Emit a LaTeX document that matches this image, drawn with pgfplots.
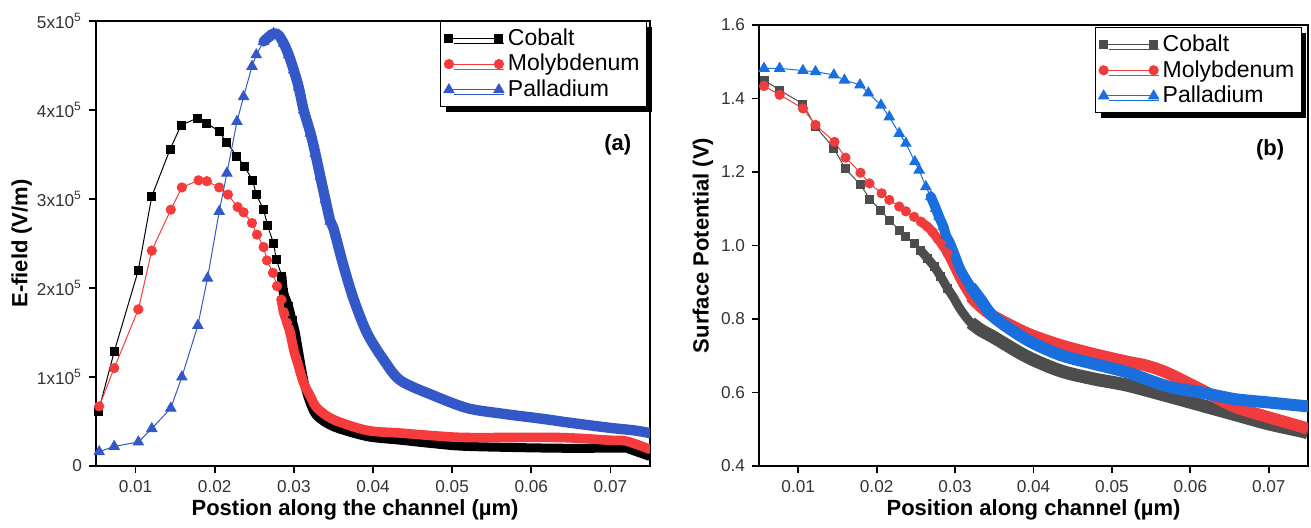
\documentclass[border=0pt]{standalone}
\usepackage{fontspec}
\setmainfont{Liberation Sans}
\usepackage{pgfplots}
\pgfplotsset{compat=1.18}
\usetikzlibrary{shadows}

\definecolor{coA}{HTML}{000000}
\definecolor{moA}{HTML}{F53B3B}
\definecolor{paA}{HTML}{3558C8}
\definecolor{coB}{HTML}{4D4D4D}
\definecolor{moB}{HTML}{F03C3C}
\definecolor{paB}{HTML}{1A6FDF}

\pgfplotsset{
  panel/.style={
    scale only axis,
    tick align=outside,
    tick pos=left,
    major tick length=3.5pt,
    axis line style={line width=0.9pt},
    every tick/.style={black, line width=0.9pt},
    tick label style={font=\fontsize{8.6}{10}\selectfont, text=black!80},
    label style={font=\fontsize{11}{13}\selectfont\bfseries},
    xtick={0.01,0.02,0.03,0.04,0.05,0.06,0.07},
    xticklabels={0.01,0.02,0.03,0.04,0.05,0.06,0.07},
    scaled x ticks=false,
    xmin=0.005, xmax=0.075,
    legend cell align=left,
    legend style={font=\fontsize{11.5}{14}\selectfont, draw=black, line width=0.6pt,
      fill=white, inner sep=1.5pt, row sep=-1pt,
      drop shadow={shadow xshift=2.5pt, shadow yshift=-2.5pt, fill=black, opacity=1}},
    legend image code/.code={\draw[##1, mark indices={1,3}] plot coordinates {(0pt,0pt) (12.5pt,0pt) (25pt,0pt)};},
  },
  band/.style={line width=#1, line join=round, line cap=round, smooth, tension=0.5, forget plot},
  flatband/.style={line width=#1, line join=round, line cap=butt, smooth, tension=0.5, forget plot},
}

\begin{document}
\begin{tikzpicture}
\path (-48pt,-30pt) rectangle (607.5pt,233pt);

% (a) E-field
\begin{axis}[panel,
  at={(0pt,0pt)}, anchor=south west,
  width=277pt, height=222.5pt,
  ymin=0, ymax=500000,
  ytick={0,100000,200000,300000,400000,500000},
  yticklabels={0,1x10\textsuperscript{5},2x10\textsuperscript{5},3x10\textsuperscript{5},4x10\textsuperscript{5},5x10\textsuperscript{5}},
  scaled y ticks=false,
  xlabel={Postion along the channel (µm)},
  ylabel={E-field (V/m)},
  xlabel style={at={(axis description cs:0.4675,-0.099)}, anchor=center},
  ylabel style={at={(axis description cs:-0.134,0.5)}, anchor=center},
  legend style={at={(rel axis cs:0.995,1)}, anchor=north east},
]
% dense tail drawn as a band under the markers
\addplot[coA, band=4.5pt] coordinates {
  (0.0285,213000) (0.02871,195000) (0.02934,179000) (0.02977,164000)
  (0.0302,149000) (0.0308,118000) (0.0314,90000) (0.0321,70000)
  (0.03294,56000) (0.03504,44000) (0.03927,33000) (0.04348,29000) (0.0477,25000)
  (0.05192,22000) (0.0631,20000) (0.07196,20000) (0.07234,19000) (0.0749,11000)
};
\addplot[coA, line width=0.5pt, mark=square*, mark size=2pt, mark options={fill=coA}] coordinates {
  (0.0053,61000) (0.0073,128400) (0.01035,220000) (0.01205,303000) (0.01437,356000)
  (0.01576,383000) (0.01783,391000) (0.01901,385000) (0.02057,376000) (0.02154,363000)
  (0.02281,348000) (0.02373,337000) (0.02479,321000) (0.02525,305000) (0.02618,288000)
  (0.02668,270000) (0.02744,250000) (0.02778,232000) (0.0285,213000) (0.02871,195000)
  (0.02934,179000) (0.02977,164000)
};
\addlegendentry{Cobalt}
\addplot[moA, band=4.8pt] coordinates {
  (0.02842,187000) (0.02871,173000) (0.02914,161000) (0.02956,149000)
  (0.0300,130000) (0.0306,112000) (0.03125,93000) (0.0321,78000)
  (0.03294,65000) (0.03504,52000) (0.03927,40000) (0.04348,37000) (0.0477,34000)
  (0.05192,32000) (0.06348,32000) (0.06981,29000) (0.0720,28000) (0.0749,19000)
};
\addplot[moA, line width=0.5pt, mark=*, mark size=2.3pt, mark options={fill=moA}] coordinates {
  (0.0054,67000) (0.0073,110000) (0.01035,176000) (0.01205,242000) (0.01445,288000)
  (0.01585,313000) (0.01795,321000) (0.01901,320000) (0.02057,313000) (0.02167,305000)
  (0.02289,291000) (0.02365,285000) (0.02471,273000) (0.02534,260000) (0.02618,246000)
  (0.0266,231000) (0.02736,217000) (0.02787,202000) (0.02842,187000) (0.02871,173000)
  (0.02914,161000) (0.02956,149000)
};
\addlegendentry{Molybdenum}
\addplot[paA, band=5.2pt] coordinates {
  (0.02618,477000) (0.02681,482000) (0.02744,486000) (0.02808,484000) (0.02871,475000)
  (0.02934,462000) (0.02998,445000) (0.0306,426000) (0.03124,400000) (0.0321,374000)
  (0.03272,351000) (0.03335,325000) (0.03399,299000) (0.0346,275000)
  (0.03504,266000) (0.0363,224000) (0.03757,187000) (0.03927,149000)
  (0.04137,119000) (0.04348,96000) (0.0477,79000) (0.05192,65000) (0.05614,59000)
  (0.06142,53000) (0.06458,49000) (0.06981,43000) (0.07301,40000) (0.075,37000)
};
\addplot[paA, line width=0.5pt, mark=triangle*, mark size=2.9pt, mark options={fill=paA}] coordinates {
  (0.0054,16000) (0.0073,22000) (0.01035,27000) (0.01205,42000) (0.01445,65000)
  (0.01585,100000) (0.01787,158000) (0.01909,211000) (0.02057,286000) (0.02154,329000)
  (0.02281,387000) (0.02365,415000) (0.02471,449000) (0.02525,462000) (0.02618,477000)
  (0.02681,482000) (0.02744,486000) (0.02808,484000) (0.02871,475000) (0.02934,462000)
  (0.02998,445000) (0.0306,426000) (0.03124,400000) (0.0321,374000) (0.03272,351000)
  (0.03335,325000) (0.03399,299000) (0.0346,275000)
};
\addlegendentry{Palladium}
\node[font=\fontsize{11}{13}\selectfont\bfseries] at (rel axis cs:0.942,0.721) {(a)};
\end{axis}

% (b) Surface potential
\begin{axis}[panel,
  at={(331.5pt,0pt)}, anchor=south west,
  width=274.5pt, height=220.5pt,
  ymin=0.4, ymax=1.6,
  ytick={0.4,0.6,0.8,1.0,1.2,1.4,1.6},
  yticklabels={0.4,0.6,0.8,1.0,1.2,1.4,1.6},
  xlabel={Position along channel (µm)},
  ylabel={Surface Potential (V)},
  xlabel style={at={(axis description cs:0.5,-0.1)}, anchor=center},
  ylabel style={at={(axis description cs:-0.102,0.5)}, anchor=center},
  legend style={at={(rel axis cs:0.989,0.995)}, anchor=north east},
]
\addplot[coB, band=4.5pt] coordinates {
  (0.02563,0.986) (0.02648,0.965) (0.02733,0.943) (0.02818,0.915) (0.02903,0.884)
  (0.02987,0.856) (0.03072,0.825) (0.03199,0.790) (0.03326,0.770) (0.03495,0.750)
};
\addplot[coB, flatband=6.5pt] coordinates {
  (0.03199,0.790) (0.03326,0.770)
  (0.03495,0.750) (0.0392,0.697) (0.04343,0.659) (0.04766,0.637) (0.05191,0.620)
  (0.0572,0.590) (0.06144,0.565) (0.06568,0.540) (0.06991,0.515) (0.07415,0.495)
  (0.075,0.490)
};
\addplot[coB, line width=0.5pt, mark=square*, mark size=2pt, mark options={fill=coB}] coordinates {
  (0.00564,1.450) (0.00763,1.423) (0.0106,1.385) (0.0122,1.324) (0.01454,1.265)
  (0.01597,1.210) (0.01794,1.165) (0.01915,1.126) (0.02055,1.095) (0.02161,1.069)
  (0.02288,1.042) (0.02373,1.024) (0.02478,1.006) (0.02563,0.986) (0.02648,0.965)
  (0.02733,0.943) (0.02818,0.915) (0.02903,0.884)
};
\addlegendentry{Cobalt}
\addplot[moB, band=4.6pt] coordinates {
  (0.02563,1.065) (0.02648,1.051) (0.02712,1.037) (0.02776,1.019) (0.02839,1.001)
  (0.02903,0.979) (0.02987,0.943) (0.03072,0.906) (0.03199,0.861) (0.03326,0.834)
  (0.03495,0.807)
};
\addplot[moB, flatband=6pt] coordinates {
  (0.03199,0.861) (0.03326,0.834)
  (0.03495,0.807) (0.0392,0.761) (0.04343,0.729) (0.04766,0.705) (0.05191,0.684)
  (0.05445,0.673) (0.0572,0.652) (0.06144,0.607) (0.06568,0.561) (0.06991,0.533)
  (0.07415,0.507) (0.075,0.500)
};
\addplot[moB, line width=0.5pt, mark=*, mark size=2.3pt, mark options={fill=moB}] coordinates {
  (0.00564,1.434) (0.00763,1.410) (0.0106,1.373) (0.0122,1.328) (0.01463,1.282)
  (0.01603,1.239) (0.01794,1.198) (0.01908,1.169) (0.02064,1.142) (0.02161,1.124)
  (0.02288,1.106) (0.02373,1.093) (0.02478,1.078) (0.02563,1.065) (0.02648,1.051)
  (0.02712,1.037) (0.02776,1.019) (0.02839,1.001) (0.02903,0.979)
};
\addlegendentry{Molybdenum}
\addplot[paB, band=5pt] coordinates {
  (0.02691,1.133) (0.02754,1.101) (0.02796,1.078) (0.02852,1.051) (0.02881,1.029)
  (0.02936,1.006) (0.02987,0.979) (0.03072,0.933) (0.03199,0.888) (0.03326,0.852)
  (0.03495,0.805)
};
\addplot[paB, flatband=6pt] coordinates {
  (0.03199,0.888) (0.03326,0.852)
  (0.03495,0.805) (0.0392,0.743) (0.04343,0.702) (0.04766,0.678) (0.05191,0.655)
  (0.0572,0.616) (0.06144,0.600) (0.06568,0.582) (0.06991,0.573) (0.07415,0.564)
  (0.075,0.563)
};
\addplot[paB, line width=0.5pt, mark=triangle*, mark size=2.9pt, mark options={fill=paB}] coordinates {
  (0.00564,1.482) (0.00763,1.482) (0.0106,1.476) (0.0122,1.473) (0.01454,1.464)
  (0.01589,1.450) (0.01788,1.437) (0.01894,1.415) (0.02055,1.382) (0.02161,1.350)
  (0.02288,1.305) (0.02373,1.278) (0.02487,1.228) (0.02542,1.205) (0.02627,1.160)
  (0.02691,1.133) (0.02754,1.101) (0.02796,1.078) (0.02852,1.051) (0.02881,1.029)
  (0.02936,1.006)
};
\addlegendentry{Palladium}
\node[font=\fontsize{11}{13}\selectfont\bfseries] at (rel axis cs:0.931,0.717) {(b)};
\end{axis}
\end{tikzpicture}
\end{document}
